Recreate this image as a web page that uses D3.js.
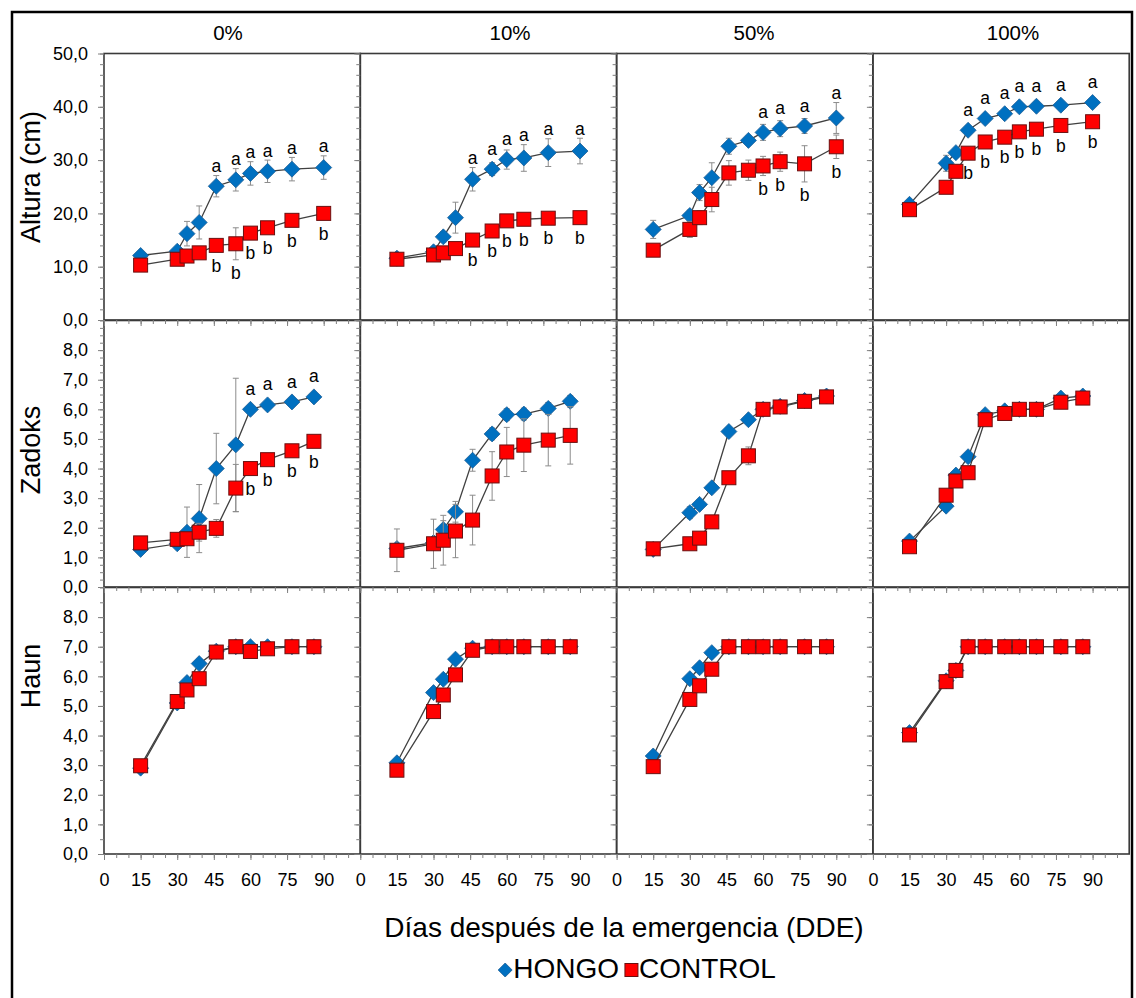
<!DOCTYPE html>
<html>
<head>
<meta charset="utf-8">
<script src="https://cdn.jsdelivr.net/npm/d3@7"></script>
<style>
  body { margin: 0; background: #fff; }
  text { font-family: "Liberation Sans", Arial, sans-serif; fill: #000; }
</style>
</head>
<body>
<svg id="chart" width="1136" height="998"></svg>
<script>
// --- Data ---
const panels = ["0%", "10%", "50%", "100%"];
const daysAltura = [15, 30, 34, 39, 46, 54, 60, 67, 77, 90];
const daysStages = [15, 30, 34, 39, 46, 54, 60, 67, 77, 86];

// Altura (cm)
const alturaHongo = [
    [12.1, 12.9, 16.2, 18.3, 25.1, 26.3, 27.5, 27.9, 28.3, 28.6],
    [11.6, 12.8, 15.6, 19.2, 26.4, 28.3, 30.1, 30.4, 31.4, 31.7],
    [17.0, 19.6, 23.9, 26.7, 32.6, 33.7, 35.2, 35.9, 36.4, 37.9],
    [21.7, 29.4, 31.4, 35.6, 37.8, 38.7, 40.0, 40.1, 40.3, 40.8]
];
const alturaHongoErr = [
    [0.3, 0.3, 2.3, 3.1, 2.0, 2.1, 2.2, 2.1, 2.2, 2.2],
    [0.3, 0.5, 1.0, 2.9, 2.2, 1.2, 1.8, 2.5, 2.6, 2.4],
    [1.7, 1.0, 1.5, 2.8, 1.5, 0.8, 1.5, 1.5, 1.4, 2.9],
    [0.5, 1.5, 0.8, 0.8, 0.6, 0.6, 0.6, 0.6, 0.6, 0.6]
];
const alturaControl = [
    [10.3, 11.4, 12.0, 12.6, 14.0, 14.3, 16.3, 17.3, 18.7, 20.0],
    [11.4, 12.2, 12.6, 13.4, 15.0, 16.7, 18.6, 18.9, 19.1, 19.2],
    [13.1, 17.0, 19.2, 22.6, 27.6, 28.1, 28.9, 29.7, 29.3, 32.5],
    [20.7, 24.9, 27.9, 31.3, 33.4, 34.3, 35.3, 35.8, 36.5, 37.2]
];
const alturaControlErr = [
    [0.4, 0.6, 0.6, 0.8, 0.8, 3.0, 1.0, 1.0, 0.8, 0.9],
    [0.3, 0.4, 0.4, 0.5, 0.5, 0.6, 0.6, 0.5, 0.5, 0.5],
    [0.3, 1.5, 1.3, 2.3, 2.3, 1.9, 1.8, 1.8, 3.4, 2.2],
    [0.5, 0.6, 0.6, 0.7, 0.6, 0.6, 0.6, 0.6, 0.6, 0.6]
];
const alturaLetterFrom = [4, 4, 6, 3];

// Zadoks
const zadoksHongo = [
    [1.27, 1.46, 1.85, 2.31, 4.0, 4.8, 6.0, 6.15, 6.25, 6.42],
    [1.3, 1.5, 1.94, 2.54, 4.28, 5.17, 5.82, 5.84, 6.03, 6.27],
    [1.27, 2.51, 2.79, 3.35, 5.25, 5.65, 6.0, 6.1, 6.3, 6.45],
    [1.55, 2.73, 3.78, 4.4, 5.82, 5.95, 6.0, 6.0, 6.38, 6.45]
];
const zadoksHongoErr = [
    [0.05, 0.1, 0.85, 1.15, 1.19, 2.25, 0.1, 0.1, 0.1, 0.1],
    [0.1, 0.1, 0.3, 0.35, 0.37, 0.2, 0.2, 0.2, 0.2, 0.2],
    [0.05, 0.2, 0.15, 0.15, 0.1, 0.1, 0.1, 0.1, 0.1, 0.1],
    [0.05, 0.15, 0.1, 0.1, 0.1, 0.1, 0.05, 0.05, 0.05, 0.05]
];
const zadoksControl = [
    [1.49, 1.61, 1.63, 1.85, 1.98, 3.34, 4.0, 4.3, 4.6, 4.92],
    [1.24, 1.46, 1.58, 1.89, 2.26, 3.75, 4.56, 4.79, 4.96, 5.12],
    [1.29, 1.46, 1.65, 2.2, 3.69, 4.43, 6.0, 6.08, 6.27, 6.42],
    [1.36, 3.1, 3.58, 3.86, 5.65, 5.86, 6.0, 6.0, 6.24, 6.38]
];
const zadoksControlErr = [
    [0.1, 0.1, 0.2, 0.3, 0.3, 0.8, 0.2, 0.2, 0.2, 0.2],
    [0.72, 0.83, 0.84, 0.9, 0.84, 0.82, 0.83, 0.89, 0.87, 0.97],
    [0.05, 0.1, 0.15, 0.2, 0.15, 0.3, 0.1, 0.1, 0.1, 0.1],
    [0.05, 0.1, 0.1, 0.1, 0.1, 0.1, 0.05, 0.05, 0.05, 0.05]
];
const zadoksLetterFrom = [6, -1, -1, -1];

// Haun
const haunHongo = [
    [2.9, 5.1, 5.79, 6.43, 6.85, 7.0, 7.0, 7.0, 7.0, 7.0],
    [3.08, 5.45, 5.9, 6.58, 6.95, 7.0, 7.0, 7.0, 7.0, 7.0],
    [3.31, 5.92, 6.29, 6.8, 7.0, 7.0, 7.0, 7.0, 7.0, 7.0],
    [4.1, 5.85, 6.2, 7.0, 7.0, 7.0, 7.0, 7.0, 7.0, 7.0]
];
const haunHongoErr = [
    [0.05, 0.1, 0.1, 0.15, 0.05, 0.05, 0.05, 0.05, 0.05, 0.05],
    [0.05, 0.1, 0.1, 0.1, 0.05, 0.05, 0.05, 0.05, 0.05, 0.05],
    [0.05, 0.1, 0.1, 0.05, 0.05, 0.05, 0.05, 0.05, 0.05, 0.05],
    [0.05, 0.05, 0.05, 0.05, 0.05, 0.05, 0.05, 0.05, 0.05, 0.05]
];
const haunControl = [
    [2.98, 5.15, 5.54, 5.92, 6.82, 7.0, 6.84, 6.93, 7.0, 7.0],
    [2.83, 4.81, 5.37, 6.05, 6.88, 7.0, 7.0, 7.0, 7.0, 7.0],
    [2.95, 5.22, 5.68, 6.24, 7.0, 7.0, 7.0, 7.0, 7.0, 7.0],
    [4.02, 5.82, 6.2, 7.0, 7.0, 7.0, 7.0, 7.0, 7.0, 7.0]
];
const haunControlErr = [
    [0.05, 0.1, 0.1, 0.15, 0.1, 0.05, 0.1, 0.05, 0.05, 0.05],
    [0.05, 0.15, 0.1, 0.1, 0.05, 0.05, 0.05, 0.05, 0.05, 0.05],
    [0.05, 0.1, 0.1, 0.1, 0.05, 0.05, 0.05, 0.05, 0.05, 0.05],
    [0.05, 0.05, 0.05, 0.05, 0.05, 0.05, 0.05, 0.05, 0.05, 0.05]
];
const haunLetterFrom = [-1, -1, -1, -1];

const xTickLabels = [0, 15, 30, 45, 60, 75, 90];

// --- Layout ---
const svg = d3.select("#chart");
const panelLeft = 104, panelW = 256.3;
const rowTop = [53.5, 320.5, 587.5], rowH = 266.5;
const titleX = [228, 510, 754, 1013];
const blue = "#0070C0", red = "#FF0000";
const fmt = d3.formatLocale({decimal: ",", thousands: ".", grouping: [3], currency: ["", ""]}).format(".1f");

const rows = [
    {title: "Altura (cm)", titleY: 177, days: daysAltura, hongo: alturaHongo, hongoErr: alturaHongoErr,
     control: alturaControl, controlErr: alturaControlErr, max: 50, labelMax: 50, major: 10, minor: 2, letterFrom: alturaLetterFrom},
    {title: "Zadoks", titleY: 450, days: daysStages, hongo: zadoksHongo, hongoErr: zadoksHongoErr,
     control: zadoksControl, controlErr: zadoksControlErr, max: 9, labelMax: 8, major: 1, minor: 0.25, letterFrom: zadoksLetterFrom},
    {title: "Haun", titleY: 676, days: daysStages, hongo: haunHongo, hongoErr: haunHongoErr,
     control: haunControl, controlErr: haunControlErr, max: 9, labelMax: 8, major: 1, minor: 0.5, letterFrom: haunLetterFrom}
];

const xOf = c => d3.scaleLinear().domain([0, 105]).range([panelLeft + c * panelW, panelLeft + (c + 1) * panelW]);

// outer border
svg.append("rect")
    .attr("x", 12).attr("y", 12).attr("width", 1120).attr("height", 1000)
    .attr("fill", "#fff").attr("stroke", "#000").attr("stroke-width", 2.5);

// panel frames
rows.forEach((row, r) => {
    panels.forEach((p, c) => {
        const x = xOf(c);
        svg.append("rect")
            .attr("x", x(0)).attr("y", rowTop[r])
            .attr("width", x(105) - x(0)).attr("height", rowH)
            .attr("fill", "none").attr("stroke", "#3a3a3a").attr("stroke-width", 1.6);
    });
});

function styleAxis(g, fontSize) {
    g.select(".domain").remove();
    g.selectAll(".tick line").attr("stroke", "#7f7f7f").attr("stroke-width", 1);
    g.selectAll(".tick text").attr("font-size", fontSize)
        .attr("font-family", '"Liberation Sans", Arial, sans-serif').attr("fill", "#1a1a1a");
}

// axes
rows.forEach((row, r) => {
    const y = d3.scaleLinear().domain([0, row.max]).range([rowTop[r] + rowH, rowTop[r]]);
    const minorY = d3.range(0, row.max + 1e-6, row.minor);
    const majorY = d3.range(0, row.labelMax + 1e-6, row.major);
    panels.forEach((p, c) => {
        const x = xOf(c);
        svg.append("g").attr("transform", `translate(${x(0)},0)`)
            .call(d3.axisLeft(y).tickValues(minorY).tickSize(4).tickFormat(""))
            .call(g => styleAxis(g, 18));
        svg.append("g").attr("transform", `translate(${x(0)},0)`)
            .call(d3.axisLeft(y).tickValues(majorY).tickSize(6).tickPadding(10)
                .tickFormat(c === 0 ? fmt : () => ""))
            .call(g => styleAxis(g, 18));

        const bottom = rowTop[r] + rowH;
        svg.append("g").attr("transform", `translate(0,${bottom})`)
            .call(d3.axisBottom(x).tickValues(d3.range(0, 101, 5)).tickSize(4).tickFormat(""))
            .call(g => styleAxis(g, 18));
        svg.append("g").attr("transform", `translate(0,${bottom})`)
            .call(d3.axisBottom(x).tickValues(xTickLabels).tickSize(6).tickPadding(13)
                .tickFormat(r === 2 ? d3.format("d") : () => ""))
            .call(g => styleAxis(g, 18));
    });

    svg.append("text")
        .attr("transform", `translate(40,${row.titleY}) rotate(-90)`)
        .attr("text-anchor", "middle")
        .attr("font-size", 27)
        .text(row.title);
});

// panel titles
panels.forEach((p, c) => {
    svg.append("text")
        .attr("x", titleX[c]).attr("y", 40)
        .attr("text-anchor", "middle")
        .attr("font-size", 20.5)
        .text(p);
});

// series
function drawSeries(g, pts, x, y, kind) {
    g.append("path")
        .datum(pts)
        .attr("fill", "none")
        .attr("stroke", "#404040")
        .attr("stroke-width", 1.3)
        .attr("d", d3.line().x(d => x(d.day)).y(d => y(d.v)));

    const eb = g.append("g").attr("stroke", "#8c8c8c").attr("stroke-width", 1);
    pts.forEach(d => {
        const y1 = y(d.v - d.e), y2 = y(d.v + d.e), cx = x(d.day);
        eb.append("line").attr("x1", cx).attr("x2", cx).attr("y1", y1).attr("y2", y2);
        eb.append("line").attr("x1", cx - 3).attr("x2", cx + 3).attr("y1", y1).attr("y2", y1);
        eb.append("line").attr("x1", cx - 3).attr("x2", cx + 3).attr("y1", y2).attr("y2", y2);
    });

    if (kind === "hongo") {
        g.selectAll(null).data(pts).enter().append("path")
            .attr("d", d => {
                const cx = x(d.day), cy = y(d.v), s = 8;
                return `M${cx},${cy - s}L${cx + s},${cy}L${cx},${cy + s}L${cx - s},${cy}Z`;
            })
            .attr("fill", blue).attr("stroke", "#1d5e96").attr("stroke-width", 0.8);
    } else {
        g.selectAll(null).data(pts).enter().append("rect")
            .attr("x", d => x(d.day) - 7).attr("y", d => y(d.v) - 7)
            .attr("width", 14).attr("height", 14)
            .attr("fill", red).attr("stroke", "#6b1010").attr("stroke-width", 1);
    }
}

rows.forEach((row, r) => {
    const y = d3.scaleLinear().domain([0, row.max]).range([rowTop[r] + rowH, rowTop[r]]);
    panels.forEach((p, c) => {
        const x = xOf(c);
        const g = svg.append("g");
        const hPts = row.days.map((day, i) => ({day, v: row.hongo[c][i], e: row.hongoErr[c][i]}));
        const cPts = row.days.map((day, i) => ({day, v: row.control[c][i], e: row.controlErr[c][i]}));
        drawSeries(g, hPts, x, y, "hongo");
        drawSeries(g, cPts, x, y, "control");

        // significance letters
        const from = row.letterFrom[c];
        if (from >= 0) {
            hPts.slice(from).forEach(d => {
                const cy = Math.min(y(d.v) - 19, y(d.v + d.e) - 8);
                g.append("text").attr("x", x(d.day)).attr("y", cy + 4.6)
                    .attr("text-anchor", "middle").attr("font-size", 17.5).text("a");
            });
            cPts.slice(from).forEach(d => {
                const cy = Math.max(y(d.v) + 20, y(d.v - d.e) + 13);
                g.append("text").attr("x", x(d.day)).attr("y", cy + 6.3)
                    .attr("text-anchor", "middle").attr("font-size", 17.5).text("b");
            });
        }
    });
});

// x title
svg.append("text")
    .attr("x", 624).attr("y", 937)
    .attr("text-anchor", "middle")
    .attr("font-size", 28)
    .text("Días después de la emergencia (DDE)");

// legend
const legend = svg.append("g");
const lh = legend.append("path").attr("fill", blue).attr("stroke", "#1d5e96").attr("stroke-width", 0.8);
const t1 = legend.append("text").attr("font-size", 28).attr("y", 978).text("HONGO");
const ls = legend.append("rect").attr("width", 13).attr("height", 13)
    .attr("fill", red).attr("stroke", "#6b1010").attr("stroke-width", 1);
const t2 = legend.append("text").attr("font-size", 28).attr("y", 978).text("CONTROL");
const w1 = t1.node().getComputedTextLength(), w2 = t2.node().getComputedTextLength();
const total = 15 + w1 + 6 + 14 + w2;
let lx = 637 - total / 2;
lh.attr("d", `M${lx + 7},${963}L${lx + 14},${970}L${lx + 7},${977}L${lx},${970}Z`);
t1.attr("x", lx + 15);
lx += 15 + w1 + 6;
ls.attr("x", lx).attr("y", 963.5);
t2.attr("x", lx + 14);
</script>
</body>
</html>
